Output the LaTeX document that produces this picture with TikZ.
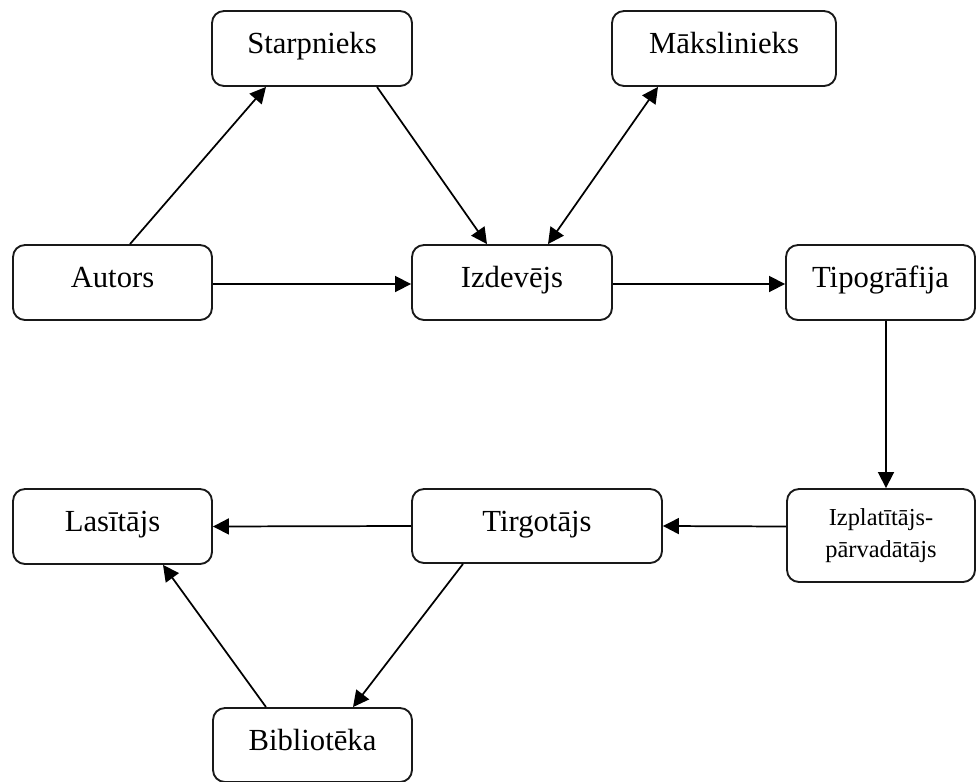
\documentclass[tikz,border=0pt]{standalone}
\usepackage{fontspec}
\setmainfont{Liberation Serif}
\usetikzlibrary{arrows.meta,calc}
\begin{document}
\begin{tikzpicture}[x=0.75pt,y=-0.75pt,
  box/.style={draw=black!90,line width=1.4pt,rounded corners=9pt,fill=white,
    inner sep=0pt,align=center,font=\fontsize{23}{26}\selectfont,
    text height=16pt,text depth=8pt},
  arr/.style={line width=1.3pt,-{Triangle[length=12pt,width=12pt]}},
  darr/.style={line width=1.3pt,{Triangle[length=12pt,width=12pt]}-{Triangle[length=12pt,width=12pt]}}]
\useasboundingbox (0,0) rectangle (976,782);
\node[box,minimum width=150pt,minimum height=56.25pt] (starp) at (312,48.5) {Starpnieks};
\node[box,minimum width=168pt,minimum height=56.25pt] (maks) at (724,48.5) {Mākslinieks};
\node[box,minimum width=149.25pt,minimum height=56.25pt] (autors) at (112.5,282.5) {Autors};
\node[box,minimum width=150pt,minimum height=56.25pt] (izd) at (512,282.5) {Izdevējs};
\node[box,minimum width=141.75pt,minimum height=56.25pt] (tipo) at (880.5,282.5) {Tipogrāfija};
\node[box,minimum width=149.25pt,minimum height=56.25pt] (las) at (112.5,526.5) {Lasītājs};
\node[box,minimum width=187.5pt,minimum height=55.5pt] (tirg) at (537,526) {Tirgotājs};
\node[box,minimum width=141pt,minimum height=69.75pt,font=\fontsize{18.3}{24}\selectfont,text height=,text depth=] (izpl) at (881,535.5) {Izplatītājs-\\pārvadātājs};
\node[box,minimum width=149.25pt,minimum height=55.5pt] (bib) at (312.5,745) {Bibliotēka};

\draw[arr] ($(autors.north)+(17.5,0)$) -- ($(starp.south)+(-46,0)$);
\draw[arr] ($(starp.south)+(65,0)$) -- ($(izd.north)+(-25,0)$);
\draw[darr] ($(maks.south)+(-66,0)$) -- ($(izd.north)+(36,0)$);
\draw[arr] ($(autors.east)+(0,1.5)$) -- ($(izd.west)+(0,1.5)$);
\draw[arr] ($(izd.east)+(0,1.5)$) -- ($(tipo.west)+(0,1.5)$);
\draw[arr] ($(tipo.south)+(5.5,0)$) -- ($(izpl.north)+(5,0)$);
\draw[arr] ($(izpl.west)+(0,-9)$) -- (tirg.east);
\draw[arr] (tirg.west) -- (las.east);
\draw[arr] ($(tirg.south)+(-74,0)$) -- ($(bib.north)+(40.5,0)$);
\draw[arr] ($(bib.north)+(-46.5,0)$) -- ($(las.south)+(50.5,0)$);
\end{tikzpicture}
\end{document}
